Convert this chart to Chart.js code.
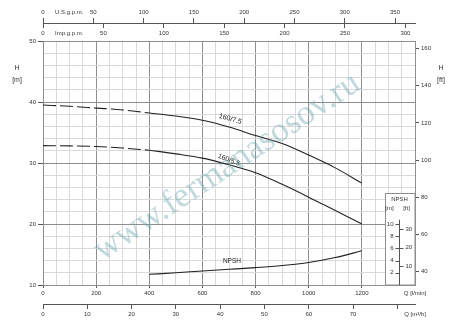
<!DOCTYPE html>
<html>
<head>
<meta charset="utf-8">
<script src="https://cdn.jsdelivr.net/npm/chart.js@4/dist/chart.umd.min.js"></script>
<style>
  body { margin: 0; background: #fff; }
</style>
</head>
<body>
<canvas id="chart" width="450" height="320"></canvas>
<script>
// curve data, Q in l/min, H in m
const flowDashed = [0, 100, 200, 300, 400];
const flowSolid = [400, 500, 600, 700, 800, 900, 1000, 1100, 1200];
const head75Dashed = [39.5, 39.3, 39.0, 38.7, 38.2];
const head75 = [38.2, 37.7, 37.0, 35.9, 34.5, 33.2, 31.3, 29.2, 26.7];
const head55Dashed = [32.85, 32.8, 32.7, 32.45, 32.1];
const head55 = [32.1, 31.5, 30.8, 29.7, 28.4, 26.5, 24.4, 22.2, 20.0];
const npsh = [1.75, 2.0, 2.3, 2.57, 2.85, 3.2, 3.7, 4.5, 5.6];

// tick labels
const lpmLabels = [0, 200, 400, 600, 800, 1000, 1200];
const m3hTicks = [0, 10, 20, 30, 40, 50, 60, 70, 80];
const usTicks = [0, 50, 100, 150, 200, 250, 300, 350];
const impTicks = [0, 50, 100, 150, 200, 250, 300];
const hLabels = [10, 20, 30, 40, 50];
const ftTicks = [40, 60, 80, 100, 120, 140, 160];
const npshMTicks = [2, 4, 6, 8, 10];
const npshFtTicks = [10, 20, 30];

const Q_MAX = 1400, H_MIN = 10, H_MAX = 50;
const L_TO_US = 0.264172, L_TO_IMP = 0.219969, L_TO_M3H = 0.06, FT = 0.3048;

const MAJOR = '#8e8e8e', MINOR = '#d9d9d9', TICK = '#555', INK = '#222';

Chart.defaults.font.family = "'Liberation Sans', Arial, sans-serif";
Chart.defaults.font.size = 6;
Chart.defaults.color = '#333';

function pts(xs, ys) { return xs.map((x, i) => ({ x: x, y: ys[i] })); }
function fixed(values) { return s => { s.ticks = values.map(v => ({ value: v })); }; }
function steps(from, to, step) { const a = []; for (let v = from; v <= to + 1e-9; v += step) a.push(v); return a; }

const lineBase = { borderColor: INK, borderWidth: 1.1, pointRadius: 0, cubicInterpolationMode: 'monotone', fill: false };

const insetPlugin = {
  id: 'inset',
  beforeDatasetsDraw(chart) {
    const { ctx, chartArea, scales } = chart;
    const x = scales.x, yN = scales.yN;
    const left = Math.round(x.getPixelForValue(1287)) + 0.5;
    const top = Math.round(yN.getPixelForValue(15.1)) + 0.5;
    const right = chartArea.right, bottom = chartArea.bottom;
    ctx.save();
    ctx.fillStyle = '#fff';
    ctx.fillRect(left, top, right - left, bottom - top);
    ctx.strokeStyle = MAJOR;
    ctx.lineWidth = 1;
    ctx.strokeRect(left, top, right - left, bottom - top);

    const ax = Math.round(x.getPixelForValue(1340)) + 0.5;
    ctx.strokeStyle = TICK;
    ctx.beginPath();
    ctx.moveTo(ax, yN.getPixelForValue(10.7));
    ctx.lineTo(ax, bottom);
    ctx.stroke();

    ctx.fillStyle = '#333';
    ctx.font = "6px 'Liberation Sans', Arial, sans-serif";
    ctx.textBaseline = 'middle';
    ctx.textAlign = 'center';
    ctx.fillText('NPSH', ax, yN.getPixelForValue(14.1));
    ctx.fillText('[m]', ax - 10, yN.getPixelForValue(12.5));
    ctx.fillText('[ft]', ax + 7, yN.getPixelForValue(12.5));

    ctx.beginPath();
    npshMTicks.forEach(v => {
      const y = Math.round(yN.getPixelForValue(v)) + 0.5;
      ctx.moveTo(ax - 4, y); ctx.lineTo(ax, y);
    });
    npshFtTicks.forEach(v => {
      const y = Math.round(yN.getPixelForValue(v * FT)) + 0.5;
      ctx.moveTo(ax, y); ctx.lineTo(ax + 4, y);
    });
    ctx.stroke();
    ctx.textAlign = 'right';
    npshMTicks.forEach(v => ctx.fillText(String(v), ax - 6, yN.getPixelForValue(v)));
    ctx.textAlign = 'left';
    npshFtTicks.forEach(v => ctx.fillText(String(v), ax + 6, yN.getPixelForValue(v * FT)));
    ctx.restore();
  },
  afterDatasetsDraw(chart) {
    const { ctx, scales } = chart;
    const x = scales.x, y = scales.y, yN = scales.yN;
    ctx.save();
    ctx.fillStyle = '#222';
    ctx.textAlign = 'center';
    ctx.textBaseline = 'middle';
    const label = (t, px, py, deg, size) => {
      ctx.save();
      ctx.translate(px, py);
      ctx.rotate(deg * Math.PI / 180);
      ctx.font = size + "px 'Liberation Sans', Arial, sans-serif";
      ctx.fillText(t, 0, 0);
      ctx.restore();
    };
    label('160/7.5', x.getPixelForValue(705), y.getPixelForValue(37.2), 16, 7);
    label('160/5.5', x.getPixelForValue(700), y.getPixelForValue(30.5), 21, 7);
    label('NPSH', x.getPixelForValue(711), yN.getPixelForValue(3.9), 0, 6.5);

    // axis names
    ctx.fillStyle = '#333';
    ctx.font = "7px 'Liberation Sans', Arial, sans-serif";
    ctx.fillText('H', 17, 68);
    ctx.fillText('[m]', 17, 80);
    ctx.fillText('H', 441, 68);
    ctx.fillText('[ft]', 441, 80);
    ctx.font = "6px 'Liberation Sans', Arial, sans-serif";
    ctx.textAlign = 'left';
    ctx.fillText('U.S.g.p.m.', 55, 12.5);
    ctx.fillText('Imp.g.p.m.', 55, 33.5);
    ctx.restore();
  },
  afterDraw(chart) {
    const { ctx } = chart;
    ctx.save();
    ctx.translate(227, 167);
    ctx.rotate(-33.7 * Math.PI / 180);
    ctx.font = "35px 'Liberation Serif', 'DejaVu Serif', serif";
    ctx.fillStyle = 'rgba(105, 165, 172, 0.42)';
    ctx.textAlign = 'center';
    ctx.textBaseline = 'middle';
    ctx.fillText('www.fermanasosov.ru', 0, 0);
    ctx.restore();
  }
};

new Chart(document.getElementById('chart'), {
  type: 'line',
  data: {
    datasets: [
      { ...lineBase, data: pts(flowDashed, head75Dashed), borderDash: [13, 4] },
      { ...lineBase, data: pts(flowSolid, head75) },
      { ...lineBase, data: pts(flowDashed, head55Dashed), borderDash: [13, 4] },
      { ...lineBase, data: pts(flowSolid, head55) },
      { ...lineBase, data: pts(flowSolid, npsh), yAxisID: 'yN' }
    ]
  },
  options: {
    responsive: false,
    animation: false,
    events: [],
    layout: { padding: 0 },
    plugins: { legend: { display: false }, tooltip: { enabled: false } },
    scales: {
      x: {
        type: 'linear', position: 'bottom', min: 0, max: Q_MAX, weight: 0,
        afterBuildTicks: fixed(steps(0, Q_MAX, 50)),
        afterFit: s => { s.height = 19; },
        grid: {
          color: c => c.tick && c.tick.value % 200 === 0 ? MAJOR : MINOR,
          tickColor: c => c.tick && lpmLabels.includes(c.tick.value) ? TICK : 'transparent',
          tickLength: 3
        },
        border: { color: MAJOR },
        ticks: {
          autoSkip: false, maxRotation: 0, minRotation: 0, padding: 2,
          callback: v => v === Q_MAX ? 'Q [l/min]' : (lpmLabels.includes(v) ? String(v) : '')
        }
      },
      xM3: {
        type: 'linear', position: 'bottom', min: 0, max: Q_MAX * L_TO_M3H, weight: 1,
        afterBuildTicks: fixed([...m3hTicks, Q_MAX * L_TO_M3H]),
        afterFit: s => { s.height = 16; },
        grid: { drawOnChartArea: false, tickLength: 5, tickColor: c => c.tick && c.tick.value > 80 ? 'transparent' : TICK },
        border: { color: TICK },
        ticks: {
          autoSkip: false, maxRotation: 0, minRotation: 0, padding: 2,
          callback: v => v > 80 ? 'Q [m³/h]' : (v === 80 ? '' : String(v))
        }
      },
      xImp: {
        type: 'linear', position: 'top', min: 0, max: Q_MAX * L_TO_IMP, weight: 0,
        afterBuildTicks: fixed(impTicks),
        afterFit: s => { s.height = 13; },
        grid: { drawOnChartArea: false, drawTicks: false },
        border: { display: false },
        ticks: { autoSkip: false, maxRotation: 0, minRotation: 0, padding: 4 }
      },
      xImpTicks: {
        type: 'linear', position: 'top', min: 0, max: Q_MAX * L_TO_IMP, weight: 1,
        afterBuildTicks: fixed(impTicks),
        afterFit: s => { s.height = 5; },
        grid: { drawOnChartArea: false, tickLength: 5, tickColor: TICK },
        border: { display: false },
        ticks: { display: false }
      },
      xUS: {
        type: 'linear', position: 'top', min: 0, max: Q_MAX * L_TO_US, weight: 2,
        afterBuildTicks: fixed(usTicks),
        afterFit: s => { s.height = 23; },
        grid: { drawOnChartArea: false, tickLength: 5, tickColor: TICK },
        border: { color: TICK },
        ticks: { autoSkip: false, maxRotation: 0, minRotation: 0, padding: 2 }
      },
      y: {
        type: 'linear', position: 'left', min: H_MIN, max: H_MAX,
        afterBuildTicks: fixed(steps(H_MIN, H_MAX, 2)),
        afterFit: s => { s.width = 43; },
        grid: {
          color: c => c.tick && c.tick.value % 10 === 0 ? MAJOR : MINOR,
          tickColor: c => c.tick && c.tick.value % 10 === 0 ? TICK : 'transparent',
          tickLength: 5
        },
        border: { color: MAJOR },
        ticks: {
          autoSkip: false, padding: 2,
          callback: v => hLabels.includes(v) ? String(v) : ''
        }
      },
      yFt: {
        type: 'linear', position: 'right', min: H_MIN / FT, max: H_MAX / FT,
        afterBuildTicks: fixed(ftTicks),
        afterFit: s => { s.width = 35; },
        grid: { drawOnChartArea: false, tickLength: 4, tickColor: TICK },
        border: { color: MAJOR },
        ticks: { autoSkip: false, padding: 2 }
      },
      yN: {
        type: 'linear', display: false, min: 0, max: H_MAX - H_MIN
      }
    }
  },
  plugins: [insetPlugin]
});
</script>
</body>
</html>
